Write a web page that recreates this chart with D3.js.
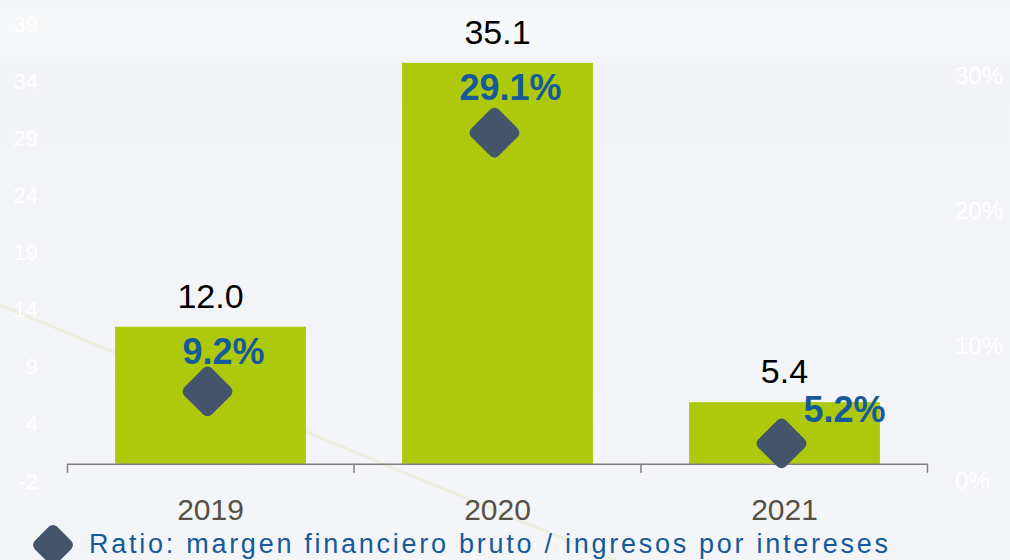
<!doctype html>
<html>
    <head>
        <script src="https://cdn.jsdelivr.net/npm/d3@7/dist/d3.min.js"></script>
        <style>
            html, body {
                margin: 0;
                padding: 0;
            }
            #viz {
                width: 1010px;
                height: 560px;
                overflow: hidden;
            }
            #viz svg {
                display: block;
                font-family: "Liberation Sans", Arial, sans-serif;
            }
        </style>
    </head>
    <body>
        <div id="viz"></div>
        <script>
            // data
            var years = ["2019", "2020", "2021"];
            var amounts = [12.0, 35.1, 5.4];
            var ratios = [9.2, 29.1, 5.2];
            var leftTicks = [-1.5, 3.5, 8.5, 13.5, 18.5, 23.5, 28.5, 33.5, 38.5];
            var rightTicks = [0, 10, 20, 30];
            var legendLabel = "Ratio: margen financiero bruto / ingresos por intereses";

            var w = 1010;
            var h = 560;

            var barColor = "#aec90b";
            var diamondColor = "#44546a";
            var blue = "#155a9a";

            var svg = d3.select("#viz").append("svg")
                .attr("width", w)
                .attr("height", h);

            // background
            var defs = svg.append("defs");
            var grad = defs.append("linearGradient")
                .attr("id", "bg")
                .attr("x1", 0).attr("y1", 0)
                .attr("x2", 0).attr("y2", 1);
            grad.append("stop").attr("offset", "0%").attr("stop-color", "#f3f4f7");
            grad.append("stop").attr("offset", "5%").attr("stop-color", "#f8f9fa");
            grad.append("stop").attr("offset", "12%").attr("stop-color", "#f2f3f6");
            grad.append("stop").attr("offset", "100%").attr("stop-color", "#f4f5f8");

            svg.append("rect")
                .attr("width", w)
                .attr("height", h)
                .attr("fill", "url(#bg)");

            // faint decorative streak behind the chart
            svg.append("line")
                .attr("x1", 0).attr("y1", 305)
                .attr("x2", 620).attr("y2", 562)
                .attr("stroke", "#eceee0")
                .attr("stroke-width", 3);

            // scales
            var x = d3.scaleBand()
                .domain(years)
                .range([67, 928])
                .paddingInner(0.335)
                .paddingOuter(0.1675);

            var y = d3.scaleLinear()
                .domain([-1.5, 38.5])
                .range([481, 24]);

            var yRight = d3.scaleLinear()
                .domain([0, 30])
                .range([481, 76]);

            // hidden scale the markers sit on
            var yRatio = d3.scaleLinear()
                .domain([0, 30])
                .range([511, 121]);

            var data = years.map(function (d, i) {
                return { year: d, amount: amounts[i], ratio: ratios[i] };
            });

            // left axis (white labels, no line)
            var leftAxis = svg.append("g")
                .attr("transform", "translate(40,0)")
                .call(d3.axisLeft(y)
                    .tickValues(leftTicks)
                    .tickSize(0)
                    .tickPadding(2)
                    .tickFormat(function (d) { return d.toFixed(0); }));
            leftAxis.select(".domain").remove();
            leftAxis.selectAll("text")
                .attr("fill", "#ffffff")
                .style("font-size", "22px")
                .style("font-family", "'Liberation Sans', Arial, sans-serif");

            // right axis (white labels)
            var rightAxis = svg.append("g")
                .attr("transform", "translate(955,0)")
                .call(d3.axisRight(yRight)
                    .tickValues(rightTicks)
                    .tickSize(0)
                    .tickPadding(0)
                    .tickFormat(function (d) { return d + "%"; }));
            rightAxis.select(".domain").remove();
            rightAxis.selectAll("text")
                .attr("fill", "#ffffff")
                .style("font-size", "24px")
                .style("font-family", "'Liberation Sans', Arial, sans-serif");

            // bars
            svg.selectAll("rect.bar")
                .data(data)
                .enter()
                .append("rect")
                    .attr("class", "bar")
                    .attr("x", function (d) { return x(d.year); })
                    .attr("y", function (d) { return y(d.amount); })
                    .attr("width", x.bandwidth())
                    .attr("height", function (d) { return y(0) - y(d.amount); })
                    .attr("fill", barColor);

            // category axis
            var bottomAxis = svg.append("g")
                .attr("transform", "translate(0," + y(0) + ")")
                .call(d3.axisBottom(x).tickSize(0).tickPadding(35));
            bottomAxis.select(".domain")
                .attr("d", "M67.5,9V0.5H927.5V9")
                .attr("stroke", "#808080")
                .attr("stroke-width", 1.5)
                .attr("fill", "none");
            bottomAxis.selectAll("text")
                .attr("fill", "#555144")
                .style("font-size", "30px")
                .style("font-family", "'Liberation Sans', Arial, sans-serif");

            // tick marks between categories
            var bounds = years.slice(1).map(function (d) {
                return x(d) - x.step() * x.paddingInner() / 2;
            });
            svg.selectAll("line.sep")
                .data(bounds)
                .enter()
                .append("line")
                    .attr("class", "sep")
                    .attr("x1", function (d) { return d; })
                    .attr("x2", function (d) { return d; })
                    .attr("y1", y(0))
                    .attr("y2", y(0) + 9)
                    .attr("stroke", "#808080")
                    .attr("stroke-width", 1.5);

            // amount labels above bars
            svg.selectAll("text.amount")
                .data(data)
                .enter()
                .append("text")
                    .attr("class", "amount")
                    .attr("x", function (d) { return x(d.year) + x.bandwidth() / 2; })
                    .attr("y", function (d) { return y(d.amount) - 19; })
                    .attr("text-anchor", "middle")
                    .attr("fill", "#000000")
                    .style("font-size", "34px")
                    .text(function (d) { return d.amount.toFixed(1); });

            // diamond markers
            var diamond = function (sel, size) {
                var s = size / Math.SQRT2 + 2;
                sel.attr("x", -s / 2)
                    .attr("y", -s / 2)
                    .attr("width", s)
                    .attr("height", s)
                    .attr("rx", 6)
                    .attr("ry", 6)
                    .attr("fill", diamondColor);
            };

            svg.selectAll("g.marker")
                .data(data)
                .enter()
                .append("g")
                    .attr("class", "marker")
                    .attr("transform", function (d) {
                        return "translate(" + (x(d.year) + x.bandwidth() / 2 - 3) + "," + yRatio(d.ratio) + ") rotate(45)";
                    })
                .append("rect")
                    .call(diamond, 52);

            // ratio labels; short bars get the label pushed to the right
            svg.selectAll("text.ratio")
                .data(data)
                .enter()
                .append("text")
                    .attr("class", "ratio")
                    .attr("x", function (d) {
                        var cx = x(d.year) + x.bandwidth() / 2;
                        return (y(0) - y(d.amount) < 80) ? cx + 60 : cx + 13;
                    })
                    .attr("y", function (d) {
                        return (y(0) - y(d.amount) < 80) ? y(d.amount) + 20 : y(d.amount) + 37;
                    })
                    .attr("text-anchor", "middle")
                    .attr("fill", blue)
                    .style("font-size", "36px")
                    .style("font-weight", "bold")
                    .text(function (d) { return d.ratio.toFixed(1) + "%"; });

            // legend
            var legend = svg.append("g")
                .attr("transform", "translate(53,545)");
            legend.append("g")
                .attr("transform", "rotate(45)")
                .append("rect")
                    .call(diamond, 42);
            legend.append("text")
                .attr("x", 36)
                .attr("y", 8)
                .attr("fill", blue)
                .attr("textLength", 799)
                .attr("lengthAdjust", "spacing")
                .style("font-size", "27px")
                .text(legendLabel);
        </script>
    </body>
</html>
